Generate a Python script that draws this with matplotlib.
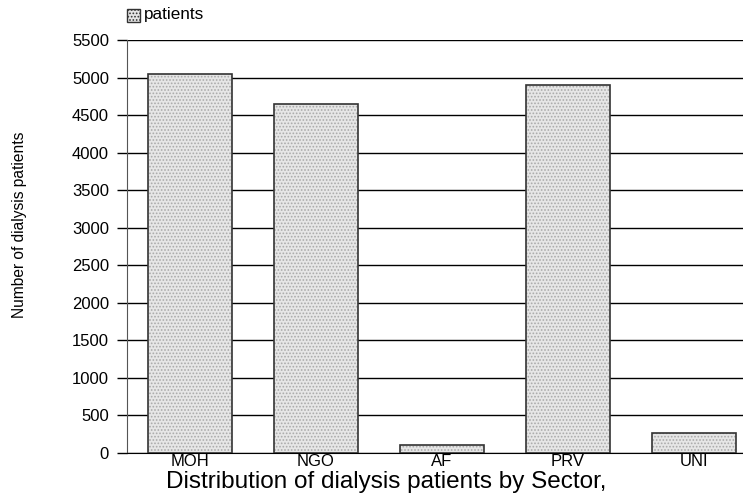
import matplotlib.pyplot as plt
import numpy as np

plt.rcParams['font.family'] = ['Liberation Sans', 'DejaVu Sans']
plt.rcParams['hatch.linewidth'] = 0.8

sectors = ["MOH", "NGO", "AF", "PRV", "UNI"]
patients = [5045, 4650, 110, 4900, 260]
yticks = list(range(0, 5501, 500))

fig = plt.figure(figsize=(7.43, 4.96), dpi=100)
ax = fig.add_axes([127 / 743, 1 - 453 / 496, (743 - 127) / 743, (453 - 40) / 496])

x = np.arange(len(sectors))
# dotted fill, then the outline on top
ax.bar(x, patients, width=0.667, color='#e6e6e6', hatch='.....', edgecolor='#aaaaaa',
       linewidth=0, zorder=2)
ax.bar(x, patients, width=0.667, color='none', edgecolor='#333333', linewidth=1.2, zorder=3)

ax.set_ylim(0, 5500)
ax.set_xlim(-0.5, 4.39)
ax.set_yticks(yticks)
ax.set_yticklabels([str(v) for v in yticks], fontsize=12)
ax.set_xticks(x)
ax.set_xticklabels(sectors, fontsize=12)
ax.tick_params(axis='x', length=0, pad=1)
ax.tick_params(axis='y', length=7, width=1, pad=6, direction='out')
ax.grid(axis='y', color='black', linewidth=1, zorder=1)

for side in ['top', 'right']:
    ax.spines[side].set_visible(False)
ax.spines['left'].set_color('#555555')
ax.spines['bottom'].set_color('black')

fig.text(20 / 743, 1 - 225 / 496, "Number of dialysis patients", rotation=90,
         ha='center', va='center', fontsize=11.2)
fig.text(386 / 743, 1 - 488 / 496, "Distribution of dialysis patients by Sector,",
         ha='center', va='baseline', fontsize=17.5)

# legend patch
fig.patches.append(plt.Rectangle((127 / 743, 1 - 22 / 496), 13 / 743, 13 / 496,
                                 transform=fig.transFigure, facecolor='#e6e6e6',
                                 hatch='.....', edgecolor='#333333', linewidth=1))
fig.text(144 / 743, 1 - 15 / 496, "patients", ha='left', va='center', fontsize=12.3)

fig.savefig("out.png", dpi=100)
